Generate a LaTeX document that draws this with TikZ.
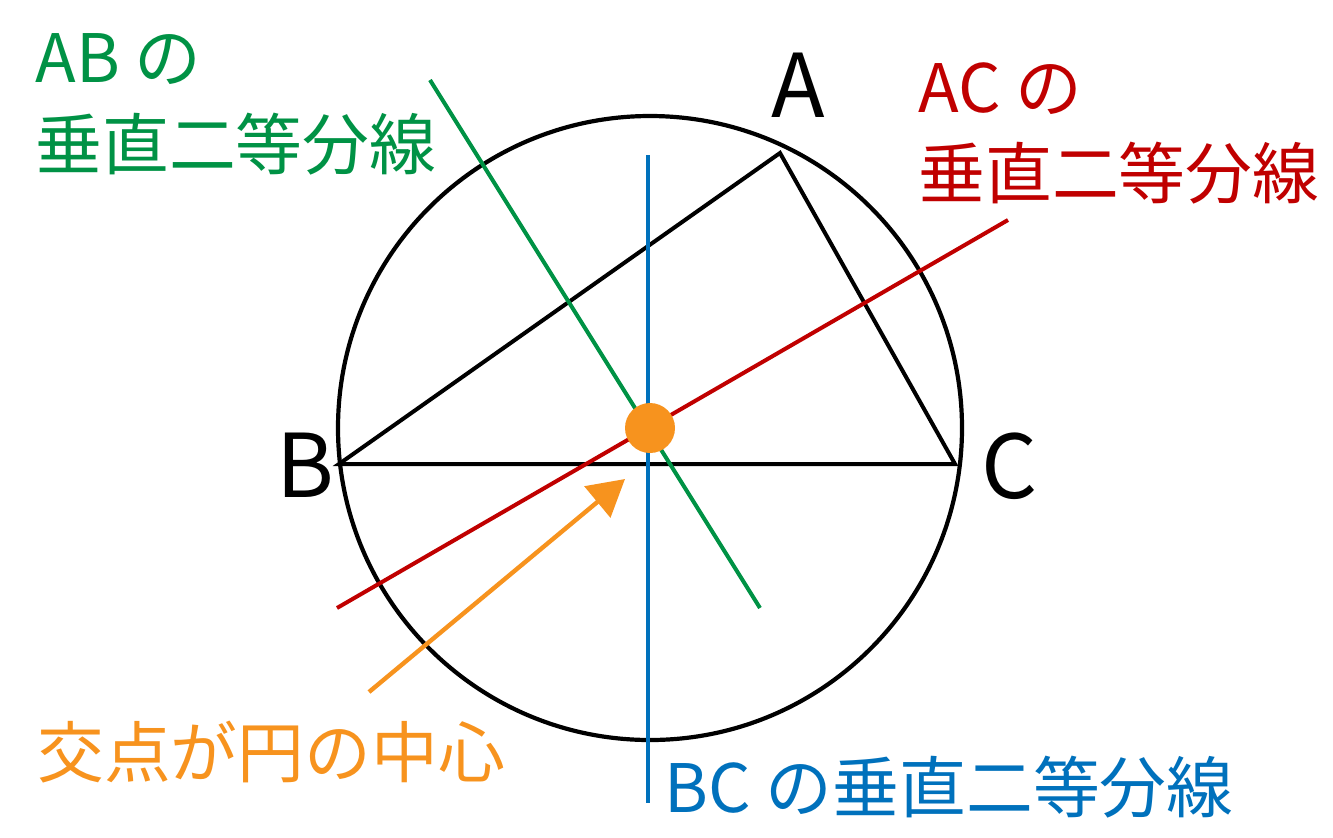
\documentclass[tikz,border=0pt]{standalone}
\usepackage{fontspec}
\setmainfont{Noto Sans CJK JP}
\usepackage{xcolor}
\usetikzlibrary{arrows.meta}
\definecolor{bisAB}{RGB}{0,146,69}
\definecolor{bisAC}{RGB}{192,0,0}
\definecolor{bisBC}{RGB}{0,113,188}
\definecolor{ctrorange}{RGB}{247,147,30}
\tikzset{
	bisector/.style={line width=2pt},
	jptext/.style={anchor=base west, inner sep=0pt, font=\fontsize{33.4}{40}\selectfont},
	vertex/.style={anchor=base west, inner sep=0pt, font=\fontsize{44}{50}\selectfont}
}
\begin{document}
\begin{tikzpicture}[x=0.5pt, y=-0.5pt]
		\useasboundingbox (0,0) rectangle (1333,837);

		\coordinate (O) at (650,428);
		\coordinate (A) at (780,153);
		\coordinate (B) at (339,464);
		\coordinate (C) at (955,464);

		\coordinate (ab1) at (430,80);
		\coordinate (ab2) at (760,608);
		\coordinate (ac1) at (337,608);
		\coordinate (ac2) at (1008,220);
		\coordinate (bc1) at (648,155);
		\coordinate (bc2) at (648,803);
		\coordinate (tail) at (369,692);
		\coordinate (tip) at (625,479);

		\draw[black, line width=2.1pt] (O) circle[radius=156pt];
		\draw[black, line width=2pt] (A) -- (B) -- (C) -- cycle;

		\draw[bisector, bisAB] (ab1) to (ab2);
		\draw[bisector, bisBC] (bc1) to (bc2);
		\draw[bisector, bisAC] (ac1) to (ac2);

		\fill[ctrorange] (O) circle[radius=12.5pt];
		\draw[ctrorange, line width=2.2pt, -{Triangle[length=18pt, width=20pt]}] (tail) to (tip);

		\node[vertex] (lA) at (771,117) {A};
		\node[vertex] (lB) at (276,497) {B};
		\node[vertex] (lC) at (981,498) {C};

		\node[jptext, bisAB] (tAB1) at (35,82) {AB の};
		\node[jptext, bisAB] (tAB2) at (35,169) {垂直二等分線};
		\node[jptext, bisAC] (tAC1) at (918,112) {AC の};
		\node[jptext, bisAC] (tAC2) at (918,198) {垂直二等分線};
		\node[jptext, bisBC] (tBC) at (664,812) {BC の垂直二等分線};
		\node[jptext, ctrorange] (tO) at (37,777) {交点が円の中心};
	\end{tikzpicture}
\end{document}
